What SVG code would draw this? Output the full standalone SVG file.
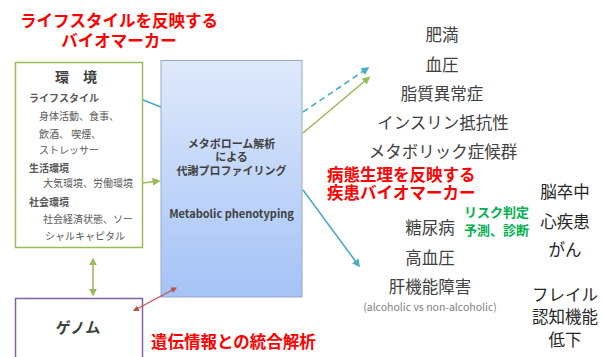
<svg xmlns="http://www.w3.org/2000/svg" width="604" height="357" viewBox="0 0 604 357">
<defs>
<linearGradient id="gBox" x1="0" y1="0" x2="0" y2="1">
<stop offset="0" stop-color="#dfe9fb"/>
<stop offset="1" stop-color="#a5c3f6"/>
</linearGradient>
<marker id="aBlue" viewBox="0 0 10 10" refX="8" refY="5" markerWidth="5" markerHeight="5" orient="auto-start-reverse"><path d="M0,0 L10,5 L0,10 z" fill="#4bacc6"/></marker>
<marker id="aGreen" viewBox="0 0 10 10" refX="8" refY="5" markerWidth="5" markerHeight="5" orient="auto-start-reverse"><path d="M0,0 L10,5 L0,10 z" fill="#9bbb59"/></marker>
<marker id="aRed" viewBox="0 0 10 10" refX="8" refY="5" markerWidth="5" markerHeight="5" orient="auto-start-reverse"><path d="M0,0 L10,5 L0,10 z" fill="#c0504d"/></marker>
</defs>
<style>
text{font-family:"Noto Sans CJK JP","Liberation Sans",sans-serif;}
.red{fill:#ff0000;font-weight:bold;font-size:16.5px;}
.dis{fill:#404040;font-size:16.5px;text-anchor:middle;}
.dis2{fill:#262626;font-size:16.5px;text-anchor:middle;}
.env{fill:#595959;font-size:10px;}
.envb{fill:#595959;font-size:10px;font-weight:bold;}
.box{fill:#404040;font-size:11px;font-weight:bold;text-anchor:middle;}
.green{fill:#00b050;font-size:13px;font-weight:bold;}
</style>
<rect width="604" height="357" fill="#ffffff"/>

<g id="title-lifestyle">
<text class="red" x="119" y="27" text-anchor="middle">ライフスタイルを反映する</text>
<text class="red" x="119" y="47" text-anchor="middle">バイオマーカー</text>
</g>

<g id="env">
<rect x="15.5" y="62.5" width="127" height="185" fill="#ffffff" stroke="#9bbb59" stroke-width="1.5"/>
<text x="76" y="82" text-anchor="middle" fill="#404040" font-size="14" font-weight="bold" xml:space="preserve">環　境</text>
<text class="envb" x="29" y="102">ライフスタイル</text>
<text class="env" x="39" y="119.5">身体活動、食事、</text>
<text class="env" x="39" y="138">飲酒、 喫煙、</text>
<text class="env" x="39" y="154">ストレッサー</text>
<text class="envb" x="29" y="171.5">生活環境</text>
<text class="env" x="43" y="187">大気環境、労働環境</text>
<text class="envb" x="29" y="205.5">社会環境</text>
<text class="env" x="43" y="223">社会経済状態、ソー</text>
<text class="env" x="45" y="240">シャルキャピタル</text>
</g>

<g id="genome">
<rect x="15.5" y="298.5" width="127" height="70" fill="#ffffff" stroke="#8064a2" stroke-width="1.5"/>
<text x="78" y="333" text-anchor="middle" fill="#404040" font-size="15" font-weight="bold">ゲノム</text>
</g>

<g id="metabolic">
<rect x="161" y="60.5" width="141" height="236.5" fill="url(#gBox)" stroke="#95a9c9" stroke-width="1"/>
<text class="box" x="231.5" y="148">メタボローム解析</text>
<text class="box" x="231.5" y="161">による</text>
<text class="box" x="231.5" y="174.5">代謝プロファイリング</text>
<text class="box" x="231.5" y="218" font-family="Open Sans, Liberation Sans, sans-serif" font-size="10.5">Metabolic phenotyping</text>
</g>

<g id="connectors" fill="none" stroke-width="1.6">
<line x1="143" y1="100" x2="161" y2="107" stroke="#4bacc6"/>
<line x1="143" y1="183" x2="159" y2="181" stroke="#9bbb59" marker-end="url(#aGreen)"/>
<line x1="93" y1="259" x2="93" y2="295" stroke="#9bbb59" marker-start="url(#aGreen)" marker-end="url(#aGreen)"/>
<line x1="134" y1="310.5" x2="176" y2="288" stroke="#c0504d" stroke-width="1.2" marker-start="url(#aRed)" marker-end="url(#aRed)"/>
<line x1="303" y1="112" x2="368" y2="68" stroke="#4bacc6" stroke-dasharray="6,4" marker-end="url(#aBlue)"/>
<line x1="303" y1="133" x2="369" y2="77.5" stroke="#9bbb59" marker-end="url(#aGreen)"/>
<line x1="303" y1="190" x2="359" y2="266" stroke="#4bacc6" marker-end="url(#aBlue)"/>
</g>

<g id="metabolic-diseases">
<text class="dis" x="442" y="41">肥満</text>
<text class="dis" x="442" y="71">血圧</text>
<text class="dis" x="442" y="100">脂質異常症</text>
<text class="dis" x="443" y="129">インスリン抵抗性</text>
<text class="dis" x="443" y="158">メタボリック症候群</text>
</g>

<g id="title-disease">
<text class="red" x="327" y="181">病態生理を反映する</text>
<text class="red" x="327" y="199">疾患バイオマーカー</text>
</g>

<g id="diseases">
<text class="dis" x="430" y="234">糖尿病</text>
<text class="dis" x="430" y="264">高血圧</text>
<text class="dis" x="430" y="293">肝機能障害</text>
<text x="430" y="310.5" text-anchor="middle" fill="#7f7f7f" font-size="10.5" font-family="Open Sans, Liberation Sans, sans-serif">(alcoholic vs non-alcoholic)</text>
</g>

<g id="risk">
<text class="green" x="464" y="216.5">リスク判定</text>
<text class="green" x="464" y="234.5">予測、診断</text>
</g>

<g id="outcomes">
<text class="dis2" x="565" y="198">脳卒中</text>
<text class="dis2" x="565" y="228">心疾患</text>
<text class="dis2" x="565" y="256">がん</text>
<text class="dis2" x="565" y="301">フレイル</text>
<text class="dis2" x="565" y="323">認知機能</text>
<text class="dis2" x="565" y="346">低下</text>
</g>

<g id="title-genetic">
<text class="red" x="151" y="347.5">遺伝情報との統合解析</text>
</g>
</svg>
